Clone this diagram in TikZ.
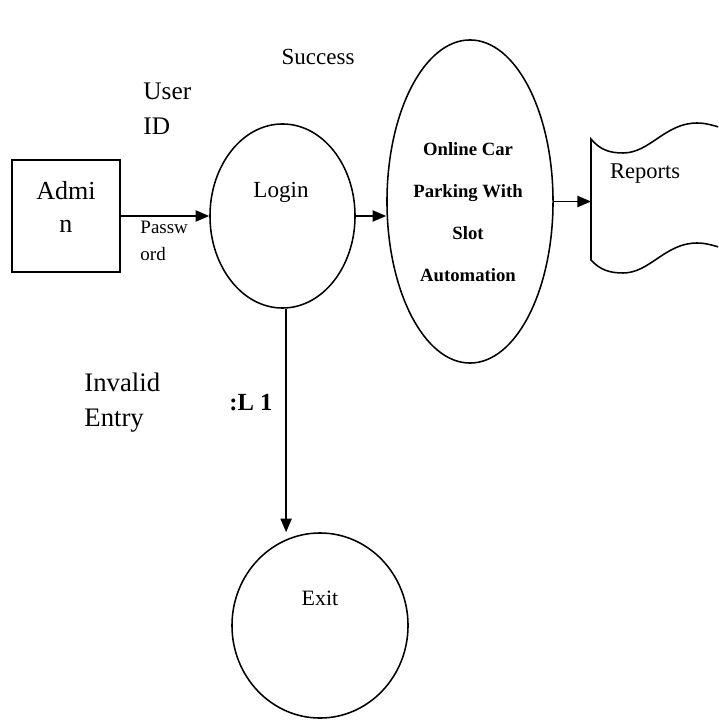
\documentclass[tikz,border=0pt]{standalone}
\usepackage{fontspec}
\setmainfont{Liberation Serif}
\usepackage{tikz}
\usetikzlibrary{shapes.geometric,arrows.meta}
\newcommand{\linecolor}{black}
\newcommand{\strokewidth}{1.1pt}
\newcommand{\tip}{-{Triangle[length=0.34cm,width=0.28cm]}}

\begin{document}
\begin{tikzpicture}[x=0.025cm,y=-0.025cm,line width=\strokewidth]
\useasboundingbox (0,0) rectangle (718,720);
\node[draw=\linecolor] (admin) at (66, 216) [rectangle, minimum width=2.7cm, minimum height=2.8cm] {};
\node[draw=\linecolor] (login) at (282.5, 216) [ellipse, minimum width=3.625cm, minimum height=4.6cm] {};
\node[draw=\linecolor] (online) at (470, 201.5) [ellipse, minimum width=4.15cm, minimum height=8.075cm] {};
\node[draw=\linecolor] (exit) at (320, 625.5) [ellipse, minimum width=4.4cm, minimum height=4.625cm] {};
\coordinate (rep) at (591, 198);
%reports
\begin{scope}
\clip (0,0) rectangle (718,720);
\draw[\linecolor] (722,128) .. controls (712,125) and (705,123) .. (697,123)
  .. controls (665,123) and (650,153) .. (623,153)
  .. controls (610,153) and (600,150) .. (591,139) -- (591,260)
  .. controls (600,270) and (610,273) .. (623,273)
  .. controls (650,273) and (665,243) .. (697,243)
  .. controls (705,243) and (712,245) .. (722,248);
\end{scope}
%texts
\node (t1) at (66, 207) [align=center, font=\fontsize{18.5}{23.5}\selectfont] {Admi\\n};
\node (t2) at (138, 109) [anchor=west, align=left, font=\fontsize{18}{25}\selectfont] {User\\ID};
\node (t3) at (135, 241) [anchor=west, align=left, font=\fontsize{13.5}{19}\selectfont] {Passw\\ord};
\node (t4) at (318, 57) [font=\fontsize{16.4}{20}\selectfont] {Success};
\node (t5) at (281, 192) [font=\fontsize{16.4}{20}\selectfont] {Login};
\node (t6) at (468, 212) [align=center, font=\bfseries\fontsize{13.3}{30}\selectfont] {Online Car\\Parking With\\Slot\\Automation};
\node (t7) at (645, 174) [font=\fontsize{16}{20}\selectfont] {Reports};
\node (t8) at (79, 403) [anchor=west, align=left, font=\fontsize{19}{25}\selectfont] {Invalid\\Entry};
\node (t9) at (251, 403) [font=\bfseries\fontsize{17.5}{20}\selectfont] {:L 1};
\node (t10) at (320, 598) [font=\fontsize{15.6}{20}\selectfont] {Exit};
%arrows
\draw[\linecolor, \tip] (admin.east) -- (login.west);
\draw[\linecolor, \tip] (login.east) -- (login.east -| online.west);
\draw[\linecolor, \tip] (online.east) -- (online.east -| rep);
\draw[\linecolor, \tip] ([xshift=0.09cm]login.south) -- ([xshift=0.09cm]login.south |- exit.north);
\end{tikzpicture}
\end{document}
